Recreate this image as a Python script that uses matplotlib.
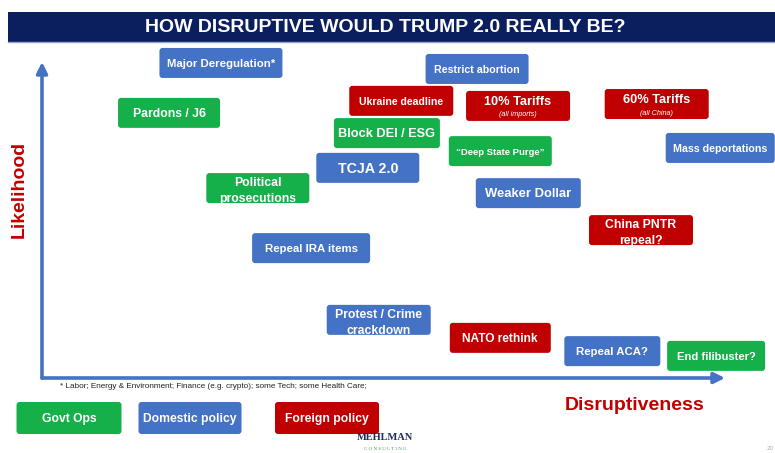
import matplotlib
matplotlib.use("Agg")
import matplotlib.pyplot as plt
from matplotlib.patches import FancyBboxPatch, Rectangle

# ---------------- data ----------------
labels = ["Major Deregulation*", "Restrict abortion", "Pardons / J6", "Ukraine deadline",
          "10% Tariffs", "60% Tariffs", "Block DEI / ESG", "\u201cDeep State Purge\u201d",
          "Mass deportations", "TCJA 2.0", "Political\nprosecutions", "Weaker Dollar",
          "China PNTR\nrepeal?", "Repeal IRA items", "Protest / Crime\ncrackdown",
          "NATO rethink", "Repeal ACA?", "End filibuster?"]
sublabels = ["", "", "", "", "(all imports)", "(all China)", "", "", "", "", "", "", "",
             "", "", "", "", ""]
category = ["Domestic policy", "Domestic policy", "Govt Ops", "Foreign policy",
            "Foreign policy", "Foreign policy", "Govt Ops", "Govt Ops",
            "Domestic policy", "Domestic policy", "Govt Ops", "Domestic policy",
            "Foreign policy", "Domestic policy", "Domestic policy",
            "Foreign policy", "Domestic policy", "Govt Ops"]
disruptiveness = [26.2, 63.7, 18.6, 52.6, 69.7, 90.0, 50.5, 67.1, 99.3, 47.7, 31.6, 71.2,
                  87.7, 39.4, 49.3, 67.1, 83.5, 98.7]
likelihood = [99.7, 97.8, 83.9, 87.7, 86.1, 86.7, 77.5, 71.8, 72.8, 66.5, 60.1, 58.5,
              46.8, 41.1, 18.4, 12.7, 8.5, 7.0]
legend_categories = ["Govt Ops", "Domestic policy", "Foreign policy"]
title = "HOW DISRUPTIVE WOULD TRUMP 2.0 REALLY BE?"
x_label = "Disruptiveness"
y_label = "Likelihood"
footnote = "* Labor; Energy & Environment; Finance (e.g. crypto); some Tech; some Health Care;"

# ---------------- style ----------------
colors = {"Govt Ops": "#16b04b", "Domestic policy": "#4472c4", "Foreign policy": "#c00000"}
box_w = [123, 103, 102, 104, 104, 104, 106, 103, 109, 103, 103, 105, 104, 118, 104, 101, 96, 98]
box_fs = [8.2, 7.7, 8.8, 7.6, 9.2, 9.2, 9.2, 6.8, 7.7, 10.3, 8.8, 9.4, 8.8, 8.2, 8.8, 8.6,
          8.2, 8.1]
box_h = 30
FONT = ["Liberation Sans", "DejaVu Sans"]
W, H = 775, 453

fig = plt.figure(figsize=(W / 100, H / 100), dpi=100)
bg = fig.add_axes([0, 0, 1, 1])
bg.set_xlim(0, W)
bg.set_ylim(H, 0)
bg.axis("off")

# chart area: origin at px (42,378), top at y=62, right at x=725
x0, x1, ytop, ybot = 42, 725, 62, 378
ax = fig.add_axes([x0 / W, (H - ybot) / H, (x1 - x0) / W, (ybot - ytop) / H])
ax.set_xlim(0, 100)
ax.set_ylim(0, 100)
ax.axis("off")

# title bar
bg.add_patch(Rectangle((8, 11.5), W - 8, 30, facecolor="#0b1f5e", edgecolor="none"))
bg.plot([8, W], [42, 42], color="#8fa8d8", lw=1)
bg.text(385, 27.5, title, color="white", fontsize=14, fontweight="bold",
        family=FONT, ha="center", va="center")

# axis arrows
axis_col = "#4472c4"
for tip in [(1.0, 0), (0, 1.0)]:
    ax.annotate("", xy=tip, xytext=(0, 0), xycoords="axes fraction",
                arrowprops=dict(arrowstyle="-|>", color=axis_col, lw=2.6, mutation_scale=16,
                                shrinkA=0, shrinkB=0))


def draw_box(cx, cy, w, h, color, zorder=3):
    bg.add_patch(FancyBboxPatch((cx - w / 2 + 2, cy - h / 2 + 2), w - 4, h - 4,
                                boxstyle="round,pad=2,rounding_size=3",
                                facecolor=color, edgecolor="none", zorder=zorder))


# boxes
inv = bg.transData.inverted()
for lab, sub, cat, xd, yd, w, fs in zip(labels, sublabels, category, disruptiveness,
                                         likelihood, box_w, box_fs):
    px, py = inv.transform(ax.transData.transform((xd, yd)))
    draw_box(px, py, w, box_h, colors[cat])
    if sub:
        bg.text(px, py - 4, lab, color="white", fontsize=fs, fontweight="bold",
                family=FONT, ha="center", va="center", zorder=4)
        bg.text(px, py + 9, sub, color="white", fontsize=5.2, style="italic",
                family=FONT, ha="center", va="center", zorder=4)
    elif "\n" in lab:
        bg.text(px, py + 3, lab, color="white", fontsize=fs, fontweight="bold",
                family=FONT, ha="center", va="center", linespacing=1.4, zorder=4)
    else:
        bg.text(px, py + 1, lab, color="white", fontsize=fs, fontweight="bold",
                family=FONT, ha="center", va="center", zorder=4)

# axis labels
bg.text(19, 189, y_label, color="#c00000", fontsize=14, fontweight="bold", family=FONT,
        rotation=90, ha="center", va="center")
bg.text(635, 405, x_label, color="#c00000", fontsize=14, fontweight="bold", family=FONT,
        ha="center", va="center")

# footnote
bg.text(60, 386, footnote, color="#222222", fontsize=5.9, family=FONT, ha="left",
        va="center")

# legend boxes
leg_x = [69, 190, 327]
leg_w = [105, 103, 104]
for cat, lx, lw in zip(legend_categories, leg_x, leg_w):
    draw_box(lx, 418, lw, 32, colors[cat])
    bg.text(lx, 419, cat, color="white", fontsize=8.7, fontweight="bold", family=FONT,
            ha="center", va="center", zorder=4)

# logo
bg.text(385, 438, "MEHLMAN", color="#1f2d5c", fontsize=7.5, family="Liberation Serif",
        fontweight="bold", ha="center", va="center")
bg.text(385, 448.5, "C O N S U L T I N G", color="#3a9a4a", fontsize=3.6,
        family="Liberation Serif", ha="center", va="center")
bg.text(770, 448, "20", color="#aaaaaa", fontsize=4, ha="center", va="center")

fig.savefig("out.png", dpi=100)
